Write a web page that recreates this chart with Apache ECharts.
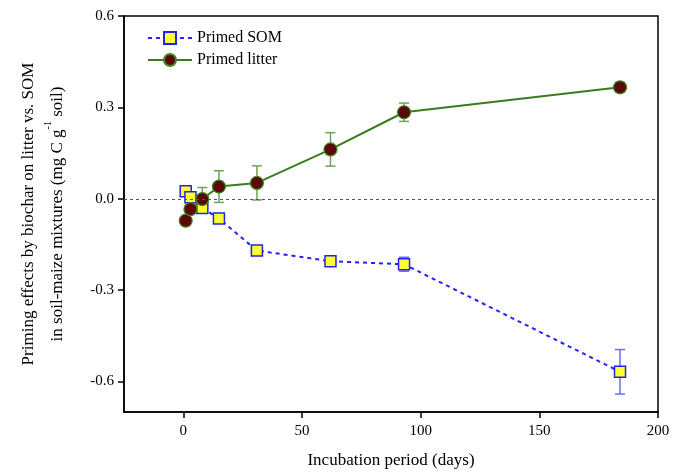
<!DOCTYPE html>
<html lang="en">
<head>
    <meta charset="UTF-8">
    <title>Priming effects</title>
    <script src="https://cdn.jsdelivr.net/npm/echarts@6/dist/echarts.min.js"></script>
</head>
<body style="margin:0">
    <div id="main" style="width: 674px;height:474px;"></div>
<script type="text/javascript">
    // 数据
    var days = [1, 3, 8, 15, 31, 62, 93, 184];
    var somMean = [0.025, 0.005, -0.03, -0.065, -0.17, -0.205, -0.215, -0.568];
    var somErr = [0.012, 0.008, 0.01, 0.01, 0.01, 0.01, 0.023, 0.073];
    var litterMean = [-0.072, -0.034, -0.001, 0.04, 0.052, 0.162, 0.284, 0.366];
    var litterErr = [0.008, 0.008, 0.038, 0.052, 0.056, 0.055, 0.03, 0.016];
    var xTicks = [0, 50, 100, 150, 200];
    var yTicks = [-0.6, -0.3, 0, 0.3, 0.6];

    var serif = 'Liberation Serif, Times New Roman, serif';

    function pairs(xs, ys) {
        var arr = [];
        for (var i = 0; i < xs.length; i++) {
            arr.push([xs[i], ys[i]]);
        }
        return arr;
    }
    function bars(xs, ys, es) {
        var arr = [];
        for (var i = 0; i < xs.length; i++) {
            arr.push([xs[i], ys[i] - es[i], ys[i] + es[i]]);
        }
        return arr;
    }
    function errorBar(color) {
        return function (params, api) {
            var x = api.value(0);
            var top = api.coord([x, api.value(2)]);
            var bot = api.coord([x, api.value(1)]);
            var w = 5;
            var st = {stroke: color, lineWidth: 1.5};
            return {
                type: 'group',
                children: [
                    {type: 'line', shape: {x1: top[0], y1: top[1], x2: bot[0], y2: bot[1]}, style: st},
                    {type: 'line', shape: {x1: top[0] - w, y1: top[1], x2: top[0] + w, y2: top[1]}, style: st},
                    {type: 'line', shape: {x1: bot[0] - w, y1: bot[1], x2: bot[0] + w, y2: bot[1]}, style: st}
                ]
            };
        };
    }

    var myChart = echarts.init(document.getElementById('main'));
    myChart.setOption({
        animation: false,
        textStyle: {fontFamily: serif},
        grid: {left: 124, right: 16, top: 16, bottom: 59, show: true, borderColor: '#000', borderWidth: 1.5},
        legend: {
            left: 142, top: 25, orient: 'vertical', itemGap: 6, itemWidth: 44, itemHeight: 15,
            textStyle: {fontFamily: serif, fontSize: 16, color: '#000'},
            data: ['Primed SOM', 'Primed litter']
        },
        xAxis: {
            type: 'value', min: -25, max: 200,
            name: 'Incubation period (days)', nameLocation: 'middle', nameGap: 40,
            nameTextStyle: {fontFamily: serif, fontSize: 17, color: '#000'},
            axisLine: {show: true, onZero: false, lineStyle: {color: '#000', width: 1.5}},
            axisTick: {show: true, customValues: xTicks, length: 6, lineStyle: {color: '#000', width: 1.5}},
            axisLabel: {customValues: xTicks, fontFamily: serif, fontSize: 15, color: '#000', margin: 12},
            splitLine: {show: false}
        },
        yAxis: {
            type: 'value', min: -0.7, max: 0.6,
            name: '{a|Priming effects by biochar on litter vs. SOM}\n{a|in soil-maize mixtures (mg C g}{s|-1}{a| soil)}',
            nameLocation: 'middle', nameGap: 52, nameRotate: 90,
            nameTextStyle: {
                fontFamily: serif, color: '#000', lineHeight: 29,
                rich: {
                    a: {fontFamily: serif, fontSize: 17, color: '#000'},
                    s: {fontFamily: serif, fontSize: 10, color: '#000', verticalAlign: 'top', padding: [0, 0, 10, 0]}
                }
            },
            axisLine: {show: true, onZero: false, lineStyle: {color: '#000', width: 1.5}},
            axisTick: {show: true, customValues: yTicks, length: 6, lineStyle: {color: '#000', width: 1.5}},
            axisLabel: {
                customValues: yTicks, fontFamily: serif, fontSize: 15, color: '#000', margin: 10,
                formatter: function (v) { return v.toFixed(1); }
            },
            splitLine: {show: false}
        },
        series: [
            {
                type: 'custom', name: 'somErr', z: 1,
                renderItem: errorBar('#6b6bff'),
                data: bars(days, somMean, somErr)
            },
            {
                type: 'custom', name: 'litterErr', z: 1,
                renderItem: errorBar('#6fa35a'),
                data: bars(days, litterMean, litterErr)
            },
            {
                name: 'Primed SOM', type: 'line', z: 3,
                symbol: 'rect', symbolSize: 11,
                itemStyle: {color: '#ffff33', borderColor: '#2222ee', borderWidth: 1.5},
                lineStyle: {color: '#2222ff', width: 2, type: [4, 4]},
                data: pairs(days, somMean),
                markLine: {
                    silent: true, symbol: 'none', label: {show: false},
                    lineStyle: {color: '#555', type: [3, 3], width: 1},
                    data: [{yAxis: 0}]
                }
            },
            {
                name: 'Primed litter', type: 'line', z: 4,
                symbol: 'circle', symbolSize: 13,
                itemStyle: {color: '#5a0808', borderColor: '#3e8a22', borderWidth: 1.2},
                lineStyle: {color: '#3a7d1e', width: 2},
                data: pairs(days, litterMean)
            }
        ]
    });
</script>
</body>
</html>
